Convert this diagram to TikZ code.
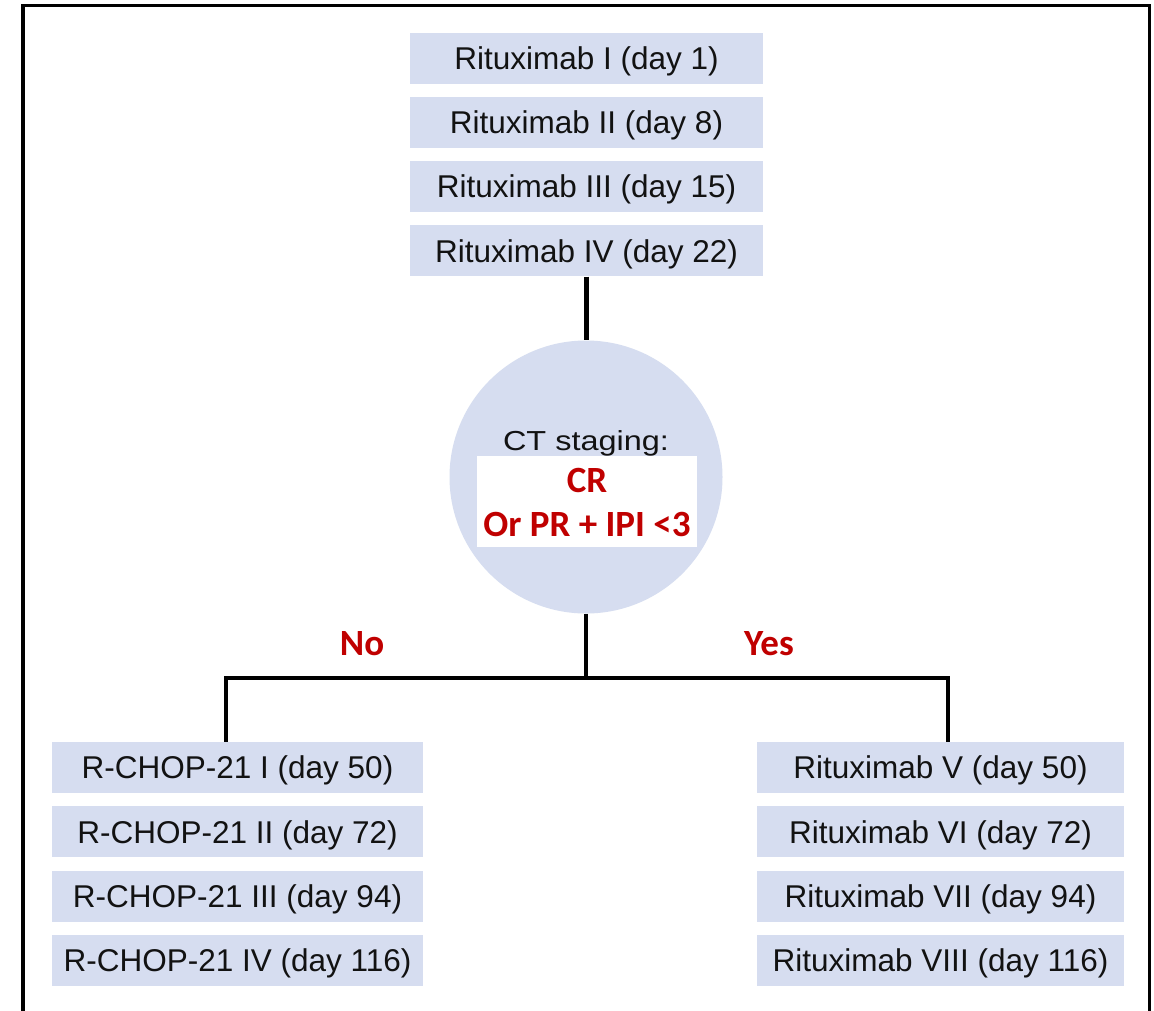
\documentclass[tikz,border=0pt]{standalone}
\usepackage{fontspec}
\setmainfont{Liberation Sans}
\newfontfamily\cali{Carlito}
\usepackage{graphicx}
\definecolor{boxblue}{RGB}{214,221,240}
\definecolor{redtxt}{RGB}{192,0,0}
\definecolor{ink}{RGB}{18,18,18}
\tikzset{
  stepbox/.style={rectangle, fill=boxblue, inner sep=0pt, minimum width=#1,
    minimum height=51pt, text height=22.6pt, text depth=0pt,
    font=\fontsize{31.5}{37}\selectfont, text=ink},
  stepbox/.default=353pt,
  link/.style={line width=4.5pt, black, line join=miter},
  answer/.style={font=\cali\bfseries\fontsize{37}{43}\selectfont, text=redtxt,
    anchor=base, inner sep=0pt},
}
\begin{document}
\begin{tikzpicture}[x=1pt,y=-1pt]
\useasboundingbox (0,0) rectangle (1154,1010);
\fill[white] (0,0) rectangle (1154,1010);
% frame
\draw[line width=3.5pt, line join=miter] (23,1012) -- (23,5.5) -- (1149.5,5.5) -- (1149.5,1012);

% top column
\node[stepbox=353pt] (t1) at (586.5,58)    {Rituximab I (day 1)};
\node[stepbox=353pt] (t2) at (586.5,122.3) {Rituximab II (day 8)};
\node[stepbox=353pt] (t3) at (586.5,186.6) {Rituximab III (day 15)};
\node[stepbox=353pt] (t4) at (586.5,250.9) {Rituximab IV (day 22)};

% staging circle
\node[circle, fill=boxblue, minimum size=273pt, inner sep=0pt] (ct) at (586,477) {};
\node[anchor=base, inner sep=0pt, text=ink, font=\fontsize{27.5}{32}\selectfont] (ctl) at (586,450) {\scalebox{1.18}[1]{CT staging:}};
\node[rectangle, fill=white, minimum width=220pt, minimum height=91pt, inner sep=0pt] (wb) at (587,501.5) {};
\node[answer] (cr) at (587,492.7) {CR};
\node[answer] (orpr) at (587,536.7) {Or PR + IPI <3};

% left column
\node[stepbox=371pt] (l1) at (237.5,767.5) {R-CHOP-21 I (day 50)};
\node[stepbox=371pt] (l2) at (237.5,831.8) {R-CHOP-21 II (day 72)};
\node[stepbox=371pt] (l3) at (237.5,896.1) {R-CHOP-21 III (day 94)};
\node[stepbox=371pt] (l4) at (237.5,960.4) {R-CHOP-21 IV (day 116)};

% right column
\node[stepbox=367pt] (r1) at (940.5,767.5) {Rituximab V (day 50)};
\node[stepbox=367pt] (r2) at (940.5,831.8) {Rituximab VI (day 72)};
\node[stepbox=367pt] (r3) at (940.5,896.1) {Rituximab VII (day 94)};
\node[stepbox=367pt] (r4) at (940.5,960.4) {Rituximab VIII (day 116)};

% connectors
\coordinate (jl) at (226,678);
\coordinate (jr) at (948,678);
\draw[link] (t4.south) -- (t4.south |- ct.north);
\draw[link] (ct.south) -- (ct.south |- jl);
\draw[link] (jl |- l1.north) -- (jl) -- (jr) -- (jr |- r1.north);

% branch labels
\node[answer] (no) at (362,655) {No};
\node[answer] (yes) at (769,655) {Yes};
\end{tikzpicture}
\end{document}
